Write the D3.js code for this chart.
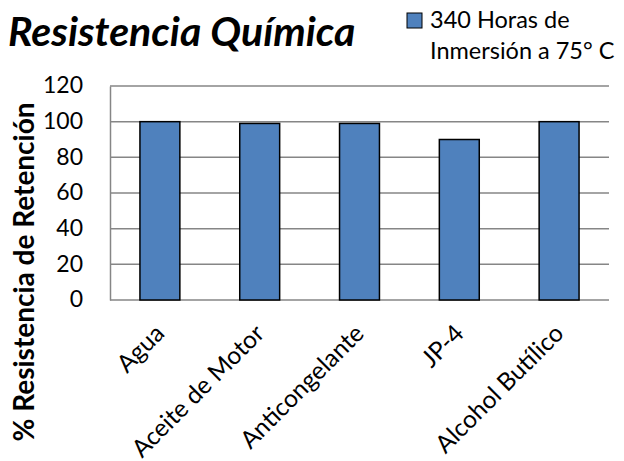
<!DOCTYPE html>
<html>
<head>
<meta charset="utf-8">
<script src="https://cdn.jsdelivr.net/npm/d3@7"></script>
<style>
  body { margin: 0; background: #fff; }
  text { font-family: Lato, "Open Sans", sans-serif; }
</style>
</head>
<body>
<script>
// data
const categories = ['Agua', 'Aceite de Motor', 'Anticongelante', 'JP-4', 'Alcohol Butílico']
const values = [100, 99, 99, 90, 100]
const yTicks = [0, 20, 40, 60, 80, 100, 120]
const seriesName = ['340 Horas de', 'Inmersión a 75° C']

const m = { width: 624, height: 461, left: 110, right: 609, top: 86, bottom: 300 }

const svg = d3.select('body').append('svg')
    .attr('width', m.width)
    .attr('height', m.height)

const xScale = d3.scaleBand()
    .domain(categories)
    .range([m.left, m.right])
    .paddingInner(0.6)
    .paddingOuter(0.3)

const yScale = d3.scaleLinear()
    .domain([0, 120])
    .range([m.bottom, m.top])

// gridlines
svg.append('g')
    .selectAll('line')
    .data(yTicks)
    .join('line')
    .attr('x1', m.left)
    .attr('x2', m.right)
    .attr('y1', d => yScale(d))
    .attr('y2', d => yScale(d))
    .attr('stroke', '#868686')
    .attr('stroke-width', 1.5)

// y axis
const yAxis = d3.axisLeft(yScale).tickValues(yTicks).tickSize(0).tickPadding(27)
const gy = svg.append('g')
    .attr('transform', `translate(${m.left},0)`)
    .call(yAxis)
gy.select('.domain').attr('stroke', '#868686').attr('stroke-width', 1.5)
gy.selectAll('text')
    .attr('font-size', 23)
    .attr('dy', '0.3em')
    .attr('fill', '#000')
    .style('font-family', 'Lato, sans-serif')

// bars
svg.append('g')
    .selectAll('rect')
    .data(values)
    .join('rect')
    .attr('x', (d, i) => xScale(categories[i]))
    .attr('y', d => yScale(d))
    .attr('width', xScale.bandwidth())
    .attr('height', d => yScale(0) - yScale(d))
    .attr('fill', '#4F81BD')
    .attr('stroke', '#000')
    .attr('stroke-width', 1.5)

// x labels
svg.append('g')
    .selectAll('text')
    .data(categories)
    .join('text')
    .attr('transform', d => `translate(${xScale(d) + xScale.bandwidth() / 2 + 6},${m.bottom + 35})rotate(-45)`)
    .attr('text-anchor', 'end')
    .attr('font-size', 24.5)
    .text(d => d)

// title
svg.append('text')
    .attr('x', 8)
    .attr('y', 46)
    .attr('font-size', 41)
    .attr('font-weight', 'bold')
    .attr('font-style', 'italic')
    .text('Resistencia Química')

// y axis title
svg.append('text')
    .attr('transform', `translate(34,272)rotate(-90)`)
    .attr('text-anchor', 'middle')
    .attr('font-size', 28)
    .attr('font-weight', 'bold')
    .text('% Resistencia de Retención')

// legend
svg.append('rect')
    .attr('x', 407)
    .attr('y', 13)
    .attr('width', 15)
    .attr('height', 15)
    .attr('fill', '#4F81BD')
    .attr('stroke', '#000')
    .attr('stroke-width', 1)

svg.append('g')
    .selectAll('text')
    .data(seriesName)
    .join('text')
    .attr('x', 430)
    .attr('y', (d, i) => 28 + i * 31)
    .attr('font-size', 23.5)
    .text(d => d)
</script>
</body>
</html>
